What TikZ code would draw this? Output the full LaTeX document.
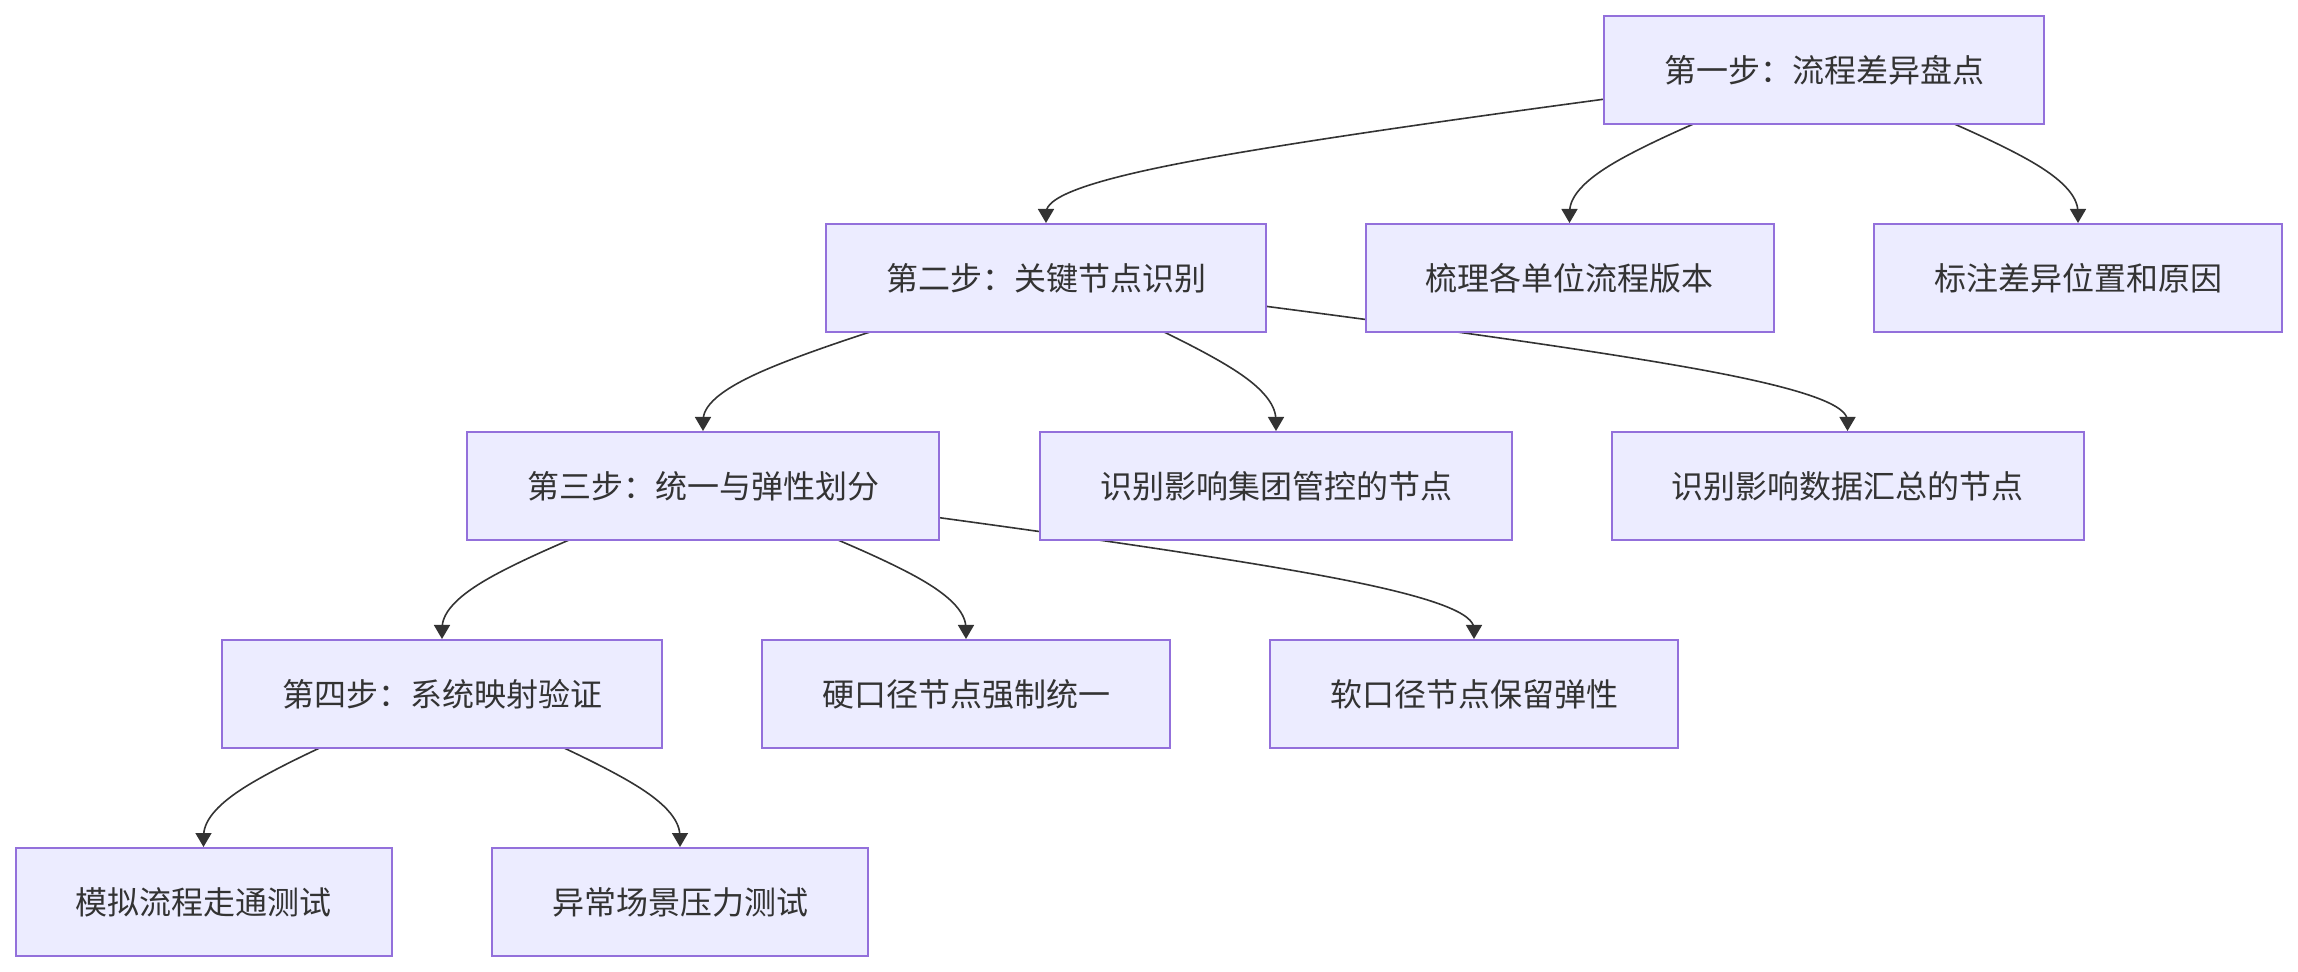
\documentclass[tikz,border=0pt]{standalone}
\usepackage{fontspec}
\setmainfont{Noto Sans CJK SC}
\usetikzlibrary{arrows.meta,calc,backgrounds}

\definecolor{boxfill}{HTML}{ECECFF}
\definecolor{boxline}{HTML}{9370DB}
\definecolor{inkgray}{HTML}{333333}

\tikzset{
  stepbox/.style={draw=boxline, fill=boxfill, line width=1pt, text=inkgray,
    font=\fontsize{16pt}{19pt}\selectfont, minimum height=54pt, inner xsep=30pt},
  link/.style={draw=inkgray, line width=0.8pt, -{Triangle[width=8pt,length=7pt]}}
}

% curved connector: from centre of #1 down into the top of #2
\newcommand{\flowlink}[2]{%
  \path (#1.center) coordinate (p0) (#2.north) coordinate (p2)
        ($(#2.north)+(0,-50)$) coordinate (p1);
  \draw[link] (p0) -- ($(p0)!1/6!(p1)$)
    .. controls ($(p0)!1/3!(p1)$) and ($(p0)!2/3!(p1)$)
    .. ($0.16667*(p0)+0.66667*(p1)+0.16667*(p2)$)
    .. controls ($(p1)!1/3!(p2)$) and ($(p1)!2/3!(p2)$)
    .. ($(p1)!5/6!(p2)$) -- (p2);
}

\begin{document}
\begin{tikzpicture}[x=0.5pt, y=-0.5pt]
  \useasboundingbox (0,0) rectangle (2298,972);

  % Rows of steps
  \node[stepbox] (s1) at (1824,70) {第一步：流程差异盘点};

  \node[stepbox] (s2)   at (1046,278)   {第二步：关键节点识别};
  \node[stepbox] (sort) at (1569.5,278) {梳理各单位流程版本};
  \node[stepbox] (mark) at (2078,278)   {标注差异位置和原因};

  \node[stepbox] (s3)   at (703,486)    {第三步：统一与弹性划分};
  \node[stepbox] (grp)  at (1276,486)   {识别影响集团管控的节点};
  \node[stepbox] (data) at (1847.5,486) {识别影响数据汇总的节点};

  \node[stepbox] (s4)   at (442,694)    {第四步：系统映射验证};
  \node[stepbox] (hard) at (966,694)    {硬口径节点强制统一};
  \node[stepbox] (soft) at (1474,694)   {软口径节点保留弹性};

  \node[stepbox] (sim)    at (203.5,902) {模拟流程走通测试};
  \node[stepbox] (stress) at (680,902)   {异常场景压力测试};

  % Connectors behind the boxes
  \begin{pgfonlayer}{background}
    \foreach \a/\b in {s1/s2, s1/sort, s1/mark, s2/s3, s2/grp, s2/data,
                       s3/s4, s3/hard, s3/soft, s4/sim, s4/stress} {
      \flowlink{\a}{\b}
    }
  \end{pgfonlayer}
\end{tikzpicture}
\end{document}
